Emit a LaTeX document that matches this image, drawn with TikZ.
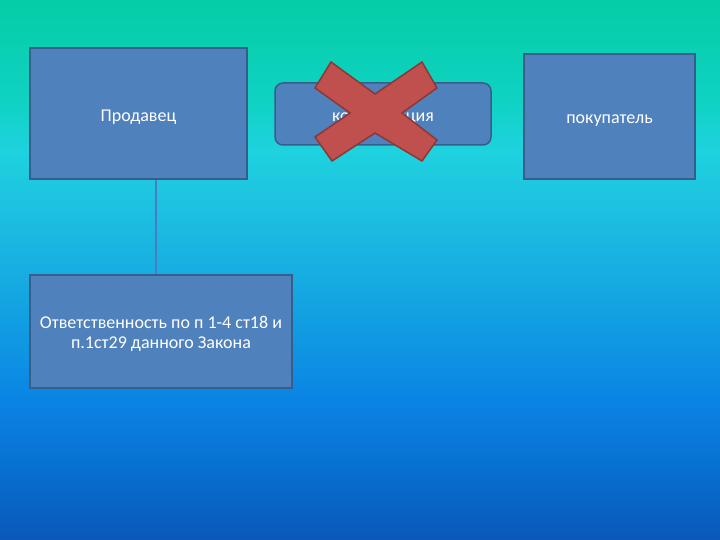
\documentclass[tikz,border=0pt]{standalone}
\usepackage{fontspec}
\setmainfont{Carlito}
\usepackage{tikz}
\usetikzlibrary{positioning, calc}
\definecolor{boxcolor}{RGB}{79,129,189}
\definecolor{boxline}{RGB}{56,93,138}
\definecolor{crosscolor}{RGB}{192,80,77}
\definecolor{crossline}{RGB}{140,56,54}
\definecolor{linkcolor}{RGB}{70,125,195}
\pgfdeclareverticalshading{slidebg}{100bp}{
  rgb(0bp)=(0.04,0.345,0.725);
  rgb(25bp)=(0.04,0.345,0.725);
  rgb(30.56bp)=(0.03,0.424,0.804);
  rgb(37.96bp)=(0.04,0.518,0.894);
  rgb(47.22bp)=(0.078,0.647,0.882);
  rgb(56.48bp)=(0.118,0.765,0.882);
  rgb(61.11bp)=(0.118,0.824,0.871);
  rgb(65.74bp)=(0.059,0.824,0.765);
  rgb(75bp)=(0.02,0.804,0.647);
  rgb(100bp)=(0.02,0.804,0.647)}

\begin{document}
\begin{tikzpicture}[
    x=1pt, y=-1pt,
    party/.style={draw=boxline, line width=1.5pt, fill=boxcolor, text=white, align=center, font=\fontsize{18}{20}\selectfont, inner sep=0pt},
    roundparty/.style={party, rounded corners=8pt}
]
    % Background
    \shade[shading=slidebg] (0,0) rectangle (720,540);
    \useasboundingbox (0,0) rectangle (720,540);

    % Parties
    \node[party, minimum width=217pt, minimum height=131pt] (seller) at (138.5,113.5) {\raisebox{-4pt}[\height][\depth]{Продавец}};
    \node[roundparty, minimum width=216pt, minimum height=62pt] (comp) at (383,114) {\raisebox{-5pt}[\height][\depth]{компенсация}};
    \node[party, minimum width=171pt, minimum height=125pt] (buyer) at (609.5,116.5) {\raisebox{-4pt}[\height][\depth]{покупатель}};
    \node[party, minimum width=262pt, minimum height=113pt] (resp) at (161,331.5) {\raisebox{-3pt}[\height][\depth]{\begin{tabular}{@{}c@{}}Ответственность по п 1-4 ст18 и\\п.1ст29 данного Закона\end{tabular}}};

    % Connections
    \draw[linkcolor, line width=1.5pt] ([xshift=17.5pt]seller.south) -- ([xshift=17.5pt]seller.south |- resp.north);

    % Cross
    \filldraw[fill=crosscolor, draw=crossline, line width=1.5pt]
        (331,62) -- (375,94) -- (422,62) -- (437,88) -- (402,113) -- (437,140)
        -- (422,161) -- (375,133) -- (332,161) -- (315,137) -- (350,113) -- (315,88) -- cycle;
\end{tikzpicture}
\end{document}
